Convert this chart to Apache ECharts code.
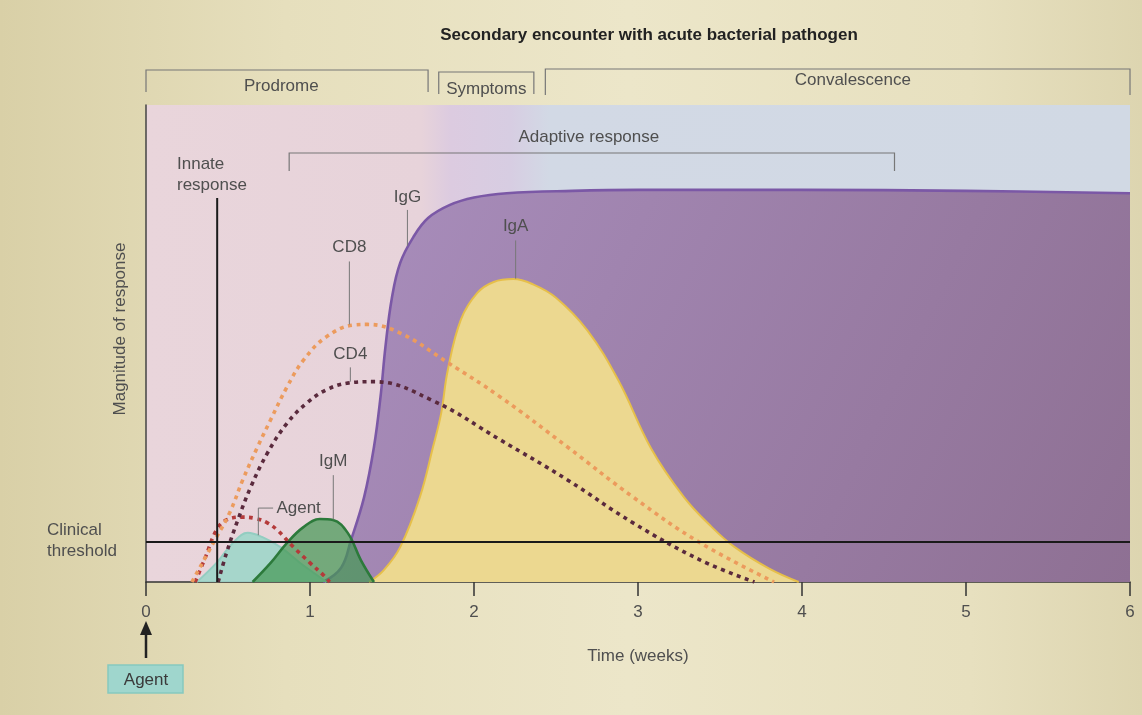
<!DOCTYPE html>
<html><head><meta charset="utf-8">
<script src="https://cdn.jsdelivr.net/npm/echarts@6/dist/echarts.min.js"></script>
<style>
html,body{margin:0;padding:0;}
body{background:linear-gradient(90deg,#d9d0a7 0%,#e6dfbd 25%,#ece6c9 55%,#e7e0bf 85%,#ddd5b0 100%);}
#c{width:1142px;height:715px;}
</style></head>
<body><div id="c"></div>
<script>
// ---- data (weeks, magnitude 0-100) ----
const weekTicks = [0, 1, 2, 3, 4, 5, 6];
const clinicalThreshold = 8.4;
const innateResponse = [[0.434, 0], [0.434, 80.5]];
const igG = [[1.08,0],[1.19,3],[1.25,8.8],[1.33,17.8],[1.39,28.3],[1.43,38.8],[1.46,49.3],[1.5,59.7],[1.55,66.9],[1.63,72.3],[1.72,76.3],[1.85,79],[2.0,80.6],[2.2,81.5],[2.6,82],[3,82.2],[4,82.2],[5,82],[6,81.5]];
const igA = [[1.36,0],[1.45,2.5],[1.55,7.3],[1.67,17.8],[1.75,28.3],[1.8,35.4],[1.84,44.4],[1.92,55],[2.02,60.6],[2.12,62.9],[2.24,63.5],[2.36,62.4],[2.5,59.6],[2.69,52.8],[2.88,42.3],[3.08,28],[3.28,17.8],[3.45,11.5],[3.59,7.3],[3.8,2.8],[3.98,0]];
const cd8 = [[0.28,0],[0.42,8.8],[0.51,14.5],[0.59,21.4],[0.68,28.3],[0.76,34],[0.86,40.9],[0.96,46.5],[1.1,51.4],[1.27,53.9],[1.35,54],[1.55,52.2],[1.84,46],[2.16,38.8],[2.57,28.3],[2.97,17.8],[3.38,8.2],[3.83,0]];
const cd4 = [[0.44,0],[0.49,6],[0.56,13],[0.64,20],[0.74,27],[0.86,33.3],[0.98,37.5],[1.1,40.3],[1.23,41.7],[1.39,42],[1.75,38],[2.16,29.8],[2.57,21.4],[2.97,12.4],[3.38,4.6],[3.71,0]];
const agentLevel = [[0.3,0],[0.36,5],[0.43,10.9],[0.49,13],[0.59,13.6],[0.67,13.3],[0.74,12.4],[0.8,10.9],[0.9,7.3],[1.0,4],[1.08,1.5],[1.12,0]];
const agentFill = [[0.31,0],[0.43,4],[0.53,8.2],[0.62,10.3],[0.71,9.4],[0.82,7.3],[0.94,4],[1.06,1],[1.1,0]];
const igM = [[0.65,0],[0.76,4],[0.86,8.2],[0.96,11.5],[1.06,13.2],[1.14,13],[1.23,10.3],[1.31,4.6],[1.39,0]];

// labels placed in data space
const curveLabels = [
  {text:'IgG', at:[1.594,80.6], lead:[[1.594,78],[1.594,70.5]]},
  {text:'IgA', at:[2.254,74.6], lead:[[2.254,71.6],[2.254,63.6]]},
  {text:'CD8', at:[1.24,70.2], lead:[[1.24,67.2],[1.24,54]]},
  {text:'CD4', at:[1.246,47.8], lead:[[1.246,45],[1.246,42]]},
  {text:'IgM', at:[1.142,25.2], lead:[[1.142,22.4],[1.142,13.1]]}
];
const phases = [
  {text:'Prodrome', from:0, to:1.72, top:70, bottom:92, labelX:0.825, labelY:86},
  {text:'Symptoms', from:1.785, to:2.365, top:72, bottom:94, labelX:2.075, labelY:89},
  {text:'Convalescence', from:2.435, to:6, top:69, bottom:95, labelX:4.31, labelY:80}
];
const adaptive = {text:'Adaptive response', from:0.873, to:4.564, top:153, bottom:171, labelX:2.7, labelY:137};

const FONT = '"Liberation Sans", Arial, sans-serif';
const TXT = '#4f4f4f';
const chart = echarts.init(document.getElementById('c'));

function dotted(name, data, color){
  return {name, type:'line', data, smooth:0.4, symbol:'none', z:6,
    lineStyle:{color, width:3.6, type:[4,4.5]}, silent:true};
}
function area(name, data, fill, line, lw, z){
  return {name, type:'line', data, smooth:0.4, symbol:'none', z,
    lineStyle:{color:line, width:lw}, areaStyle:{color:fill, opacity:1}, silent:true};
}

chart.setOption({
  animation:false,
  grid:{left:146, right:12, top:105, bottom:133, containLabel:false, outerBoundsMode:'none'},
  xAxis:{type:'value', min:0, max:6, interval:1,
    axisLine:{show:true, onZero:false, lineStyle:{color:'#333', width:1.5}},
    axisTick:{show:true, length:14, lineStyle:{color:'#333', width:1.5}},
    axisLabel:{color:TXT, fontSize:17, fontFamily:FONT, margin:22, showMinLabel:true, showMaxLabel:true,
      formatter:v=>weekTicks.includes(v)?String(v):''},
    splitLine:{show:false},
    name:'Time (weeks)', nameLocation:'middle', nameGap:66,
    nameTextStyle:{color:TXT, fontSize:17, fontFamily:FONT}},
  yAxis:{type:'value', min:0, max:100,
    axisLine:{show:true, onZero:false, lineStyle:{color:'#444', width:1.5}},
    axisTick:{show:false}, axisLabel:{show:false}, splitLine:{show:false}},
  series:[
    {name:'bg', type:'line', data:[[0,0],[6,0]], symbol:'none', z:0, silent:true,
      lineStyle:{opacity:0},
      markArea:{silent:true, z:0, itemStyle:{color:{type:'linear', x:0, y:0, x2:1, y2:0, colorStops:[
        {offset:0, color:'#e9d5db'},{offset:0.28, color:'#e7d3da'},{offset:0.31, color:'#dccbe0'},
        {offset:0.37, color:'#d7cde2'},{offset:0.41, color:'#d2d9e5'},{offset:1, color:'#d1d9e4'}]}},
        data:[[{xAxis:0, yAxis:0},{xAxis:6, yAxis:100}]]}},
    area('IgG', igG, {type:'linear', x:0, y:0, x2:1, y2:1, colorStops:[{offset:0, color:'#a98ebd'},{offset:1, color:'#8e7093'}]}, '#7b58a6', 2.6, 2),
    area('IgA', igA, '#ecd890', '#e6bf4a', 2, 3),
    area('Agent', agentFill, 'rgba(160,214,202,0.92)', '#93cdc1', 2, 4),
    area('IgM', igM, 'rgba(70,152,86,0.72)', '#2c7a3b', 2.6, 5),
    dotted('Agent level', agentLevel, '#b43a3a'),
    dotted('CD8', cd8, '#ec9b5d'),
    dotted('CD4', cd4, '#5a2a3d'),
    {name:'Clinical threshold', type:'line', data:[[0,clinicalThreshold],[6,clinicalThreshold]], symbol:'none', z:8,
      lineStyle:{color:'#1a1a1a', width:2}, silent:true},
    {name:'Innate response', type:'line', data:innateResponse, symbol:'none', z:8,
      lineStyle:{color:'#1a1a1a', width:2}, silent:true}
  ]
});

const P = (x,y)=>chart.convertToPixel({gridIndex:0},[x,y]);
const X = x=>P(x,0)[0];
const g = [];
const txt = (text,x,y,opt={})=>g.push({type:'text', x, y, z:20, silent:true, rotation:opt.rotation||0,
  style:{text, fill:opt.fill||TXT, font:(opt.weight||'normal')+' '+(opt.size||17)+'px '+FONT,
  textAlign:opt.align||'center', textVerticalAlign:'middle', lineHeight:opt.lh||20}});
const poly = (pts,color='#666',w=1)=>g.push({type:'polyline', z:19, silent:true, shape:{points:pts}, style:{stroke:color, lineWidth:w, fill:null}});

// title
txt('Secondary encounter with acute bacterial pathogen', 649, 35, {weight:'bold', fill:'#222'});
// phase brackets
phases.forEach(p=>{
  poly([[X(p.from),p.bottom],[X(p.from),p.top],[X(p.to),p.top],[X(p.to),p.bottom]],'#777',1.2);
  txt(p.text, X(p.labelX), p.labelY);
});
// adaptive bracket
poly([[X(adaptive.from),adaptive.bottom],[X(adaptive.from),adaptive.top],[X(adaptive.to),adaptive.top],[X(adaptive.to),adaptive.bottom]],'#777',1.2);
txt(adaptive.text, X(adaptive.labelX), adaptive.labelY);
// curve labels
curveLabels.forEach(c=>{
  const p=P(c.at[0],c.at[1]); txt(c.text,p[0],p[1]);
  poly(c.lead.map(q=>P(q[0],q[1])),'#777',1);
});
// agent label
{ const p=P(0.795,15.5); txt('Agent',p[0],p[1],{align:'left'});
  poly([P(0.775,15.5),P(0.685,15.5),P(0.685,9.8)],'#777',1); }
// innate label
{ const p=P(0.189,85.3); txt('Innate\nresponse',p[0],p[1],{align:'left', lh:21}); }
// clinical threshold label
{ const p=P(0,clinicalThreshold); txt('Clinical\nthreshold',p[0]-99,p[1]-1,{align:'left', lh:21}); }
// y axis name
txt('Magnitude of response', 120, 329, {rotation:Math.PI/2});
// agent box + arrow
{ const x0=X(0);
  g.push({type:'line', z:20, silent:true, shape:{x1:x0,y1:658,x2:x0,y2:632}, style:{stroke:'#222', lineWidth:2.5}});
  g.push({type:'polygon', z:20, silent:true, shape:{points:[[x0,621],[x0-6,635],[x0+6,635]]}, style:{fill:'#222'}});
  g.push({type:'rect', z:20, silent:true, shape:{x:x0-38, y:665, width:75, height:28}, style:{fill:'#9fd6cd', stroke:'#86c9bf', lineWidth:1.5}});
  txt('Agent', x0, 680, {fill:'#3a3a3a'});
}
chart.setOption({graphic:g});
</script>
</body></html>
